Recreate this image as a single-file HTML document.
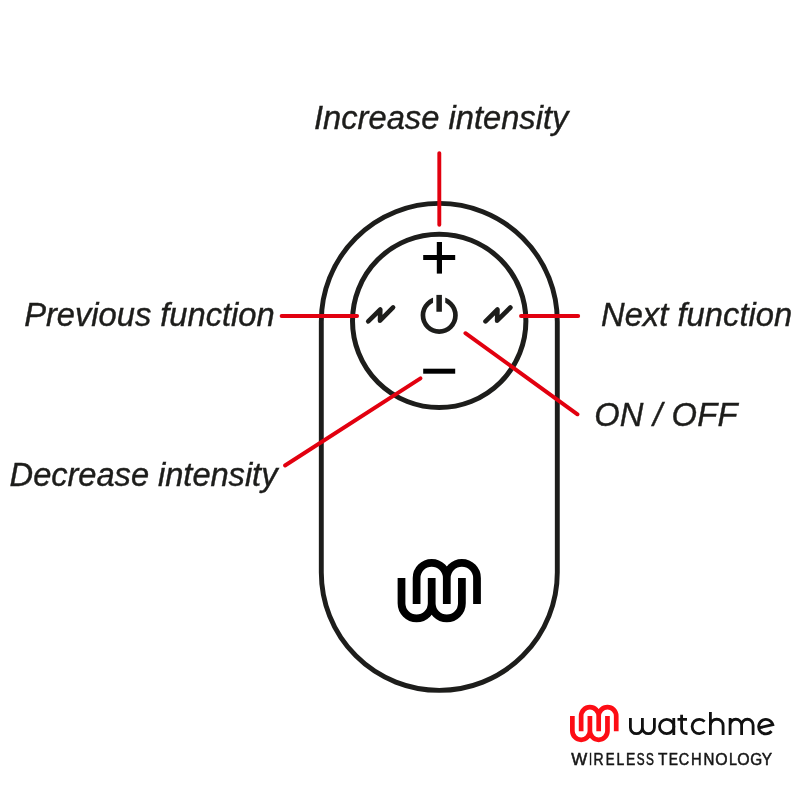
<!DOCTYPE html>
<html><head><meta charset="utf-8">
<style>
html,body{margin:0;padding:0;background:#fff;}
body{width:800px;height:800px;overflow:hidden;}
svg{display:block;transform:translateZ(0);will-change:transform;}
text{font-family:"Liberation Sans",sans-serif;}
.lbl{font-style:italic;font-size:32.7px;fill:#1d1d1b;stroke:#1d1d1b;stroke-width:0.4px;}
</style></head><body>
<svg width="800" height="800" viewBox="0 0 800 800">
<rect width="800" height="800" fill="#fff"/>
<!-- remote body -->
<rect x="321.3" y="203.4" width="236" height="487" rx="118" ry="118" fill="none" stroke="#1d1d1b" stroke-width="4.9"/>
<circle cx="439.2" cy="320.9" r="86.7" fill="none" stroke="#1d1d1b" stroke-width="5"/>
<!-- plus / minus -->
<rect x="423.2" y="255" width="32" height="5" fill="#000"/>
<rect x="436.8" y="242" width="5.2" height="31.6" fill="#000"/>
<rect x="423.2" y="368.7" width="32" height="5" fill="#000"/>
<!-- power -->
<circle cx="439.2" cy="315.3" r="16.25" fill="none" stroke="#1d1d1b" stroke-width="4.7"/>
<rect x="433.05" y="293" width="12.2" height="12" fill="#fff"/>
<rect x="436.4" y="294.9" width="5.5" height="16.85" fill="#1d1d1b"/>
<!-- zigzags -->
<polyline points="368.2,321.3 380.3,309.5 380,320.7 393.1,307.4" fill="none" stroke="#1d1d1b" stroke-width="4.6" stroke-linecap="round" stroke-linejoin="round"/>
<polyline points="485.5,321.4 497.5,309.5 497.1,320.7 510.4,307.5" fill="none" stroke="#1d1d1b" stroke-width="4.6" stroke-linecap="round" stroke-linejoin="round"/>
<!-- big logo -->
<g fill="none" stroke="#000" stroke-width="7.75">
<path d="M401.5,578 V603.3 A15.1,15.1 0 0 0 431.7,603.3 V578 M431.7,603.3 A15.1,15.1 0 0 0 461.9,603.3 V578"/>
<path d="M416.6,604 V578 A15.1,15.1 0 0 1 446.8,578 V604 M446.8,578 A15.1,15.1 0 0 1 477,578 V604"/>
</g>
<!-- red lines -->
<g fill="none" stroke="#e2000f" stroke-width="3.9" stroke-linecap="round">
<line x1="439.3" y1="153.1" x2="439.3" y2="224.8"/>
<line x1="281.6" y1="315.95" x2="357.1" y2="315.95"/>
<line x1="521" y1="315.95" x2="578.2" y2="315.95"/>
<line x1="465.4" y1="333.2" x2="577.5" y2="414.3"/>
<line x1="285" y1="465.5" x2="420.5" y2="378.3"/>
</g>
<!-- labels -->
<text class="lbl" transform="translate(314,129.1) scale(1,1)" letter-spacing="0">Increase intensity</text>
<text class="lbl" transform="translate(24.2,326.1) scale(1,1)" letter-spacing="-0.02">Previous function</text>
<text class="lbl" transform="translate(601,326.1) scale(1,1)" letter-spacing="0.04">Next function</text>
<text class="lbl" transform="translate(594.2,425.5) scale(1,1.04)" letter-spacing="0.22">ON / OFF</text>
<text class="lbl" transform="translate(9.6,486.2) scale(1,1)" letter-spacing="-0.06">Decrease intensity</text>
<!-- small logo -->
<g fill="none" stroke="#fd0d15" stroke-width="8.1" transform="translate(570.1,704.9) scale(0.581,0.587) translate(-397.6,-559)">
<path d="M401.5,578 V603.3 A15.1,15.1 0 0 0 431.7,603.3 V578 M431.7,603.3 A15.1,15.1 0 0 0 461.9,603.3 V578"/>
<path d="M416.6,604 V578 A15.1,15.1 0 0 1 446.8,578 V604 M446.8,578 A15.1,15.1 0 0 1 477,578 V604"/>
</g>
<!-- watchme wordmark -->
<g fill="none" stroke="#111" stroke-width="2.8">
<path d="M630.4,718 V727.7 a6,6 0 0 0 12,0 V718 M642.4,727.7 a6,6 0 0 0 12,0 V718"/>
<circle cx="666.7" cy="726.5" r="7.2"/>
<path d="M673.8,718 V735"/>
<path d="M681.6,714.8 V729 a4.7,4.7 0 0 0 4.7,4.7 h1.2 M677.5,719.3 H687"/>
<path d="M704.6,721.6 A7.2,7.2 0 1 0 704.6,731.4"/>
<path d="M710.4,711.9 V735 M710.4,725.6 a6.35,6.35 0 0 1 12.7,0 V735"/>
<path d="M730.1,718 V735 M730.1,725 a5.75,5.75 0 0 1 11.5,0 V735 M741.6,725 a5.75,5.75 0 0 1 11.5,0 V735"/>
<path d="M759.2,727.8 L772.8,724.7 A7.2,7.2 0 1 0 771.5,731.2"/>
</g>
<g font-size="15.4" fill="#161616" stroke="#161616" stroke-width="0.5">
<text transform="translate(571.35,765.0) scale(1.100,1.03)">W</text>
<text transform="translate(588.89,765.0) scale(0.712,1.03)">I</text>
<text transform="translate(593.41,765.0) scale(0.906,1.03)">R</text>
<text transform="translate(605.71,765.0) scale(0.861,1.03)">E</text>
<text transform="translate(616.56,765.0) scale(0.910,1.03)">L</text>
<text transform="translate(625.91,765.0) scale(0.908,1.03)">E</text>
<text transform="translate(636.63,765.0) scale(0.766,1.03)">S</text>
<text transform="translate(645.98,765.0) scale(0.766,1.03)">S</text>
<text transform="translate(658.11,765.0) scale(1.000,1.03)">T</text>
<text transform="translate(668.66,765.0) scale(0.902,1.03)">E</text>
<text transform="translate(678.82,765.0) scale(0.938,1.03)">C</text>
<text transform="translate(691.00,765.0) scale(0.958,1.03)">H</text>
<text transform="translate(703.47,765.0) scale(0.981,1.03)">N</text>
<text transform="translate(715.31,765.0) scale(1.030,1.03)">O</text>
<text transform="translate(729.03,765.0) scale(0.931,1.03)">L</text>
<text transform="translate(737.21,765.0) scale(1.030,1.03)">O</text>
<text transform="translate(750.23,765.0) scale(0.999,1.03)">G</text>
<text transform="translate(761.81,765.0) scale(1.003,1.03)">Y</text>
</g>
</svg>
</body></html>
